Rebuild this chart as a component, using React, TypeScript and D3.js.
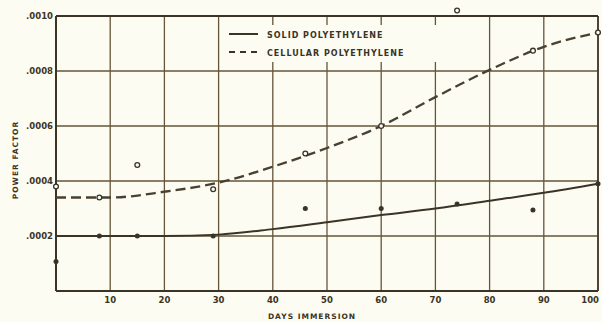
import React from "react";
import * as d3 from "d3";

// days of immersion at which curves were read
const curveDays = [0, 10, 20, 30, 40, 50, 60, 70, 80, 90, 100];
const solidCurve = [0.0002, 0.0002, 0.0002, 0.000205, 0.000225, 0.00025, 0.000276, 0.0003, 0.000328, 0.000357, 0.00039];
const cellularCurve = [0.00034, 0.00034, 0.000361, 0.000394, 0.000452, 0.00052, 0.0006, 0.000705, 0.000804, 0.000888, 0.00094];

// measured points
const solidDays = [0, 8, 15, 29, 46, 60, 74, 88, 100];
const solidValues = [0.000107, 0.0002, 0.0002, 0.0002, 0.0003, 0.0003, 0.000316, 0.000295, 0.00039];
const cellularDays = [0, 8, 15, 29, 46, 60, 74, 88, 100];
const cellularValues = [0.00038, 0.00034, 0.000458, 0.00037, 0.0005, 0.0006, 0.00102, 0.000874, 0.00094];

const xTicks = [10, 20, 30, 40, 50, 60, 70, 80, 90, 100];
const yTicks = [0.0002, 0.0004, 0.0006, 0.0008, 0.001];
const yTickLabels = [".0002", ".0004", ".0006", ".0008", ".0010"];
const legendLabels = ["SOLID POLYETHYLENE", "CELLULAR POLYETHYLENE"];

const WIDTH = 602;
const HEIGHT = 322;
const BG = "#fcfcf3";
const INK = "#3b3426";
const GRID = "#665538";
const FONT = "'DejaVu Sans', sans-serif";

const App = () => {
  const x = d3.scaleLinear().domain([0, 100]).range([56, 598]);
  const y = d3.scaleLinear().domain([0, 0.001]).range([291, 16]);

  const line = d3
    .line<[number, number]>()
    .x((d) => x(d[0]))
    .y((d) => y(d[1]))
    .curve(d3.curveMonotoneX);

  const solidPath = line(curveDays.map((d, i) => [d, solidCurve[i]]));
  const cellPath = line(curveDays.map((d, i) => [d, cellularCurve[i]]));

  return (
    <div style={{ position: "absolute", left: 0, top: 0 }}>
      <svg width={WIDTH} height={HEIGHT} style={{ display: "block", background: BG }}>
        <rect width={WIDTH} height={HEIGHT} fill={BG} />
        {/* grid */}
        {xTicks.map((t) => (
          <line key={"gx" + t} x1={x(t)} x2={x(t)} y1={y(0.001)} y2={y(0)} stroke={GRID} strokeWidth={1.3} />
        ))}
        {yTicks.map((t) => (
          <line key={"gy" + t} x1={x(0)} x2={x(100)} y1={y(t)} y2={y(t)} stroke={GRID} strokeWidth={1.3} />
        ))}
        {/* legend backdrop breaks the grid */}
        <rect x={224} y={25} width={222} height={37} fill={BG} />
        {/* frame */}
        <line x1={x(0)} x2={x(0)} y1={y(0.001)} y2={y(0)} stroke={INK} strokeWidth={2} />
        <line x1={x(0)} x2={x(100)} y1={y(0)} y2={y(0)} stroke={INK} strokeWidth={2} />
        <line x1={x(0)} x2={x(100)} y1={y(0.001)} y2={y(0.001)} stroke={INK} strokeWidth={1.8} />
        <line x1={x(100)} x2={x(100)} y1={y(0.001)} y2={y(0)} stroke={INK} strokeWidth={1.6} />

        {/* ticks labels */}
        {yTicks.map((t, i) => (
          <text key={"ty" + t} x={x(0) - 3} y={y(t) + 3} textAnchor="end" fontSize={8.5} fontWeight="bold" fill={INK} fontFamily={FONT}>
            {yTickLabels[i]}
          </text>
        ))}
        {xTicks.map((t) => (
          <text
            key={"tx" + t}
            x={t === 100 ? x(t) + 1 : x(t)}
            y={303}
            textAnchor={t === 100 ? "end" : "middle"}
            fontSize={8.5}
            fontWeight="bold"
            fill={INK}
            fontFamily={FONT}
          >
            {t}
          </text>
        ))}
        <text x={312} y={319} textAnchor="middle" fontSize={7.5} fontWeight="bold" letterSpacing={1} fill={INK} fontFamily={FONT}>
          DAYS IMMERSION
        </text>
        <text
          transform={`translate(18, 160) rotate(-90)`}
          textAnchor="middle"
          fontSize={7.5}
          fontWeight="bold"
          letterSpacing={1}
          fill={INK}
          fontFamily={FONT}
        >
          POWER FACTOR
        </text>

        {/* curves */}
        <path d={solidPath!} fill="none" stroke={INK} strokeWidth={2} />
        <path d={cellPath!} fill="none" stroke="#4a4030" strokeWidth={2.3} strokeDasharray="10,5" />

        {/* points */}
        {solidDays.map((d, i) => (
          <circle key={"sp" + i} cx={x(d)} cy={y(solidValues[i])} r={2.5} fill={INK} />
        ))}
        {cellularDays.map((d, i) => (
          <circle key={"cp" + i} cx={x(d)} cy={y(cellularValues[i])} r={2.4} fill={BG} stroke={INK} strokeWidth={1.3} />
        ))}

        {/* legend */}
        <line x1={229} x2={258} y1={34} y2={34} stroke={INK} strokeWidth={2} />
        <line x1={229} x2={258} y1={52} y2={52} stroke={INK} strokeWidth={2} strokeDasharray="6,5" />
        {legendLabels.map((l, i) => (
          <text key={l} x={267} y={37.5 + i * 18} fontSize={8} fontWeight="bold" letterSpacing={1} fill={INK} fontFamily={FONT}>
            {l}
          </text>
        ))}
      </svg>
    </div>
  );
};

export default App;
